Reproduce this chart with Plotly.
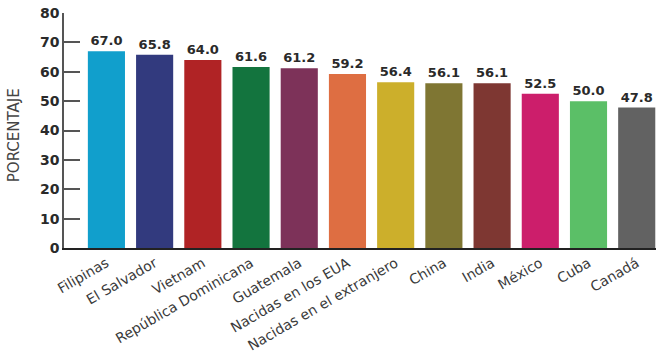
import plotly.graph_objects as go

categories = ["Filipinas", "El Salvador", "Vietnam", "República Dominicana", "Guatemala",
              "Nacidas en los EUA", "Nacidas en el extranjero", "China", "India", "México",
              "Cuba", "Canadá"]
values = [67.0, 65.8, 64.0, 61.6, 61.2, 59.2, 56.4, 56.1, 56.1, 52.5, 50.0, 47.8]
colors = ["#119FCC", "#323A7E", "#B02325", "#13743E", "#7D3259", "#DE6E42",
          "#CCAF2B", "#7F7633", "#7E3732", "#CC1E6B", "#5BBF67", "#626262"]
labels = [f"{v:.1f}" for v in values]
y_title = "PORCENTAJE"

fig = go.Figure(go.Bar(
    x=categories, y=values, marker_color=colors, marker_line_width=0,
    text=labels, textposition="outside", cliponaxis=False,
    textfont=dict(family="DejaVu Sans", size=13, color="#2a2a2a", weight="bold"),
))

fig.update_layout(
    width=656, height=356,
    margin=dict(l=64, r=0, t=13, b=108),
    paper_bgcolor="white", plot_bgcolor="white",
    bargap=0.23, showlegend=False,
    font=dict(family="DejaVu Sans", color="#333"),
    uniformtext=dict(mode=False),
)
fig.add_annotation(
    text=y_title, xref="paper", yref="paper", x=-0.0845, y=0.48,
    textangle=-90, showarrow=False, xanchor="center", yanchor="middle",
    font=dict(family="DejaVu Sans", size=15, color="#444"),
)
fig.update_xaxes(
    range=[-0.88, 11.4], tickangle=-30,
    tickfont=dict(family="DejaVu Sans", size=14, color="#3a3a3a"),
    showline=True, linecolor="#222", linewidth=1.5, ticks="", showgrid=False,
)
fig.update_yaxes(
    range=[0, 80], dtick=10, showgrid=False, zeroline=False,
    showline=True, linecolor="#555", linewidth=1.5,
    ticks="inside", ticklen=16, tickcolor="#555", tickwidth=1.5,
    tickfont=dict(family="DejaVu Sans", size=14, color="#2a2a2a", weight="bold"),
)

fig.write_html("out.html")
